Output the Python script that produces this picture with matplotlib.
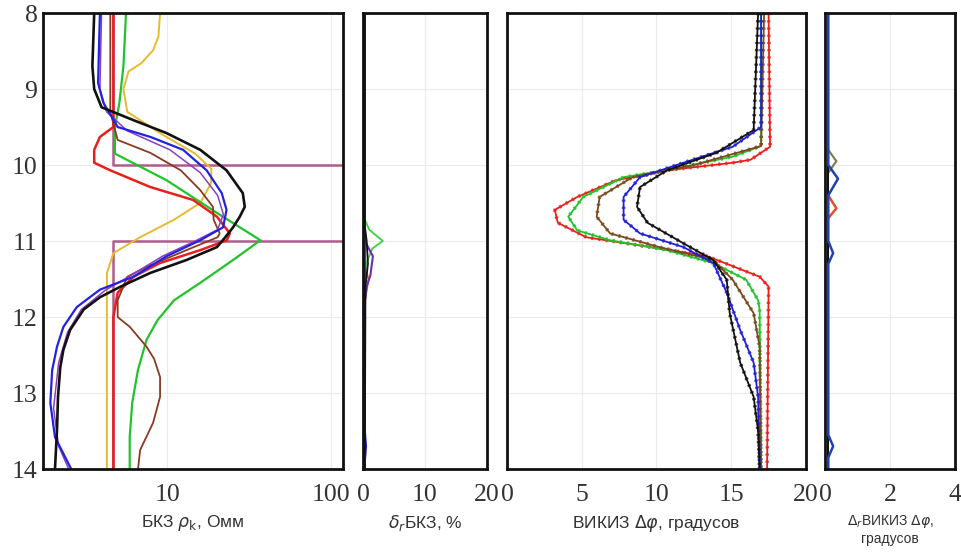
import matplotlib
matplotlib.use("Agg")
import matplotlib.pyplot as plt
from matplotlib.ticker import FixedLocator, NullLocator

# --- БКЗ apparent resistivity, Ohm*m, vs depth, m ---
bkz_black_d = [8.0, 8.7, 9.0, 9.24, 9.41, 9.58, 9.8, 10.07, 10.37, 10.55, 10.68, 10.82, 10.95,
               11.08, 11.25, 11.42, 11.6, 11.74, 11.9, 12.17, 12.43, 12.66, 13.05, 13.49, 14.0]
bkz_black_r = [3.59, 3.5, 3.59, 3.98, 6.23, 9.91, 15.9, 23.0, 28.9, 29.7, 27.7, 25.2, 22.6,
               20.1, 13.1, 7.89, 5.2, 3.89, 3.1, 2.56, 2.33, 2.23, 2.16, 2.13, 2.07]
bkz_blue_d = [8.0, 8.92, 9.18, 9.5, 9.63, 9.8, 10.07, 10.37, 10.59, 10.82, 10.99, 11.2, 11.47,
              11.64, 11.87, 12.13, 12.39, 12.7, 13.13, 13.58, 14.0]
bkz_blue_r = [3.89, 3.79, 4.08, 4.99, 7.89, 12.5, 17.4, 21.5, 23.0, 21.9, 15.9, 9.91, 6.23,
              3.89, 2.81, 2.33, 2.13, 1.99, 1.94, 2.07, 2.6]
bkz_purple_d = [8.0, 9.0, 9.3, 9.55, 9.8, 10.1, 10.4, 10.65, 10.85, 11.0, 11.2, 11.45, 11.65,
                11.9, 12.2, 12.6, 13.2, 13.7, 14.0]
bkz_purple_r = [3.98, 3.89, 4.27, 5.71, 10.4, 15.9, 20.3, 22.0, 20.3, 14.8, 9.36, 6.03, 4.18,
                3.0, 2.47, 2.18, 2.03, 2.18, 2.51]
bkz_brown_d = [8.0, 9.3, 9.67, 9.84, 10.07, 10.33, 10.55, 10.72, 10.9, 10.95, 11.12, 11.34,
               11.47, 11.78, 12.0, 12.13, 12.39, 12.55, 12.79, 13.05, 13.39, 13.75, 14.0]
bkz_brown_r = [4.5, 4.5, 4.99, 7.89, 12.1, 15.9, 19.0, 19.2, 20.9, 20.3, 13.1, 7.48,
               5.71, 4.99, 4.99, 5.92, 7.48, 8.32, 9.05, 9.05, 8.21, 6.84, 6.64]
bkz_red_d = [8.0, 9.5, 9.63, 9.8, 9.97, 10.07, 10.29, 10.46, 10.68, 10.9, 10.99, 11.12,
             11.29, 11.47, 11.68, 12.0, 14.0]
bkz_red_r = [4.7, 4.7, 3.89, 3.59, 3.59, 4.5, 7.89, 14.4, 20.1, 24.1, 23.1, 15.9,
             9.03, 6.23, 4.99, 4.7, 4.7]
bkz_green_d = [8.0, 8.7, 9.2, 9.5, 9.85, 10.2, 10.63, 10.99, 11.25, 11.55, 11.78, 12.04,
               12.3, 12.7, 13.13, 13.58, 14.0]
bkz_green_r = [5.61, 5.41, 5.1, 4.8, 4.8, 9.91, 20.1, 37.0, 25.2, 15.9, 11.0, 8.74,
               7.48, 6.63, 6.12, 5.91, 5.91]
bkz_yellow_d = [8.0, 8.31, 8.49, 8.66, 8.77, 9.0, 9.3, 9.6, 9.85, 10.05, 10.24, 10.5, 10.72,
                10.95, 11.16, 11.42, 12.0, 14.0]
bkz_yellow_r = [9.05, 8.84, 8.21, 6.95, 5.81, 5.41, 5.71, 9.36, 14.8, 18.6, 18.5, 15.9, 11.0,
                6.84, 4.7, 4.29, 4.29, 4.29]

# formation model: host rock and resistive bed 10-11 m
model_d = [8.0, 10.0, 10.0, 11.0, 11.0, 14.0]
model_r = [4.7, 4.7, 200.0, 200.0, 4.7, 4.7]

# --- relative БКЗ error, % ---
dbkz_black_d = [8.0, 10.8, 11.0, 11.3, 11.6, 14.0]
dbkz_black_v = [0.3, 0.3, 0.6, 0.8, 0.4, 0.3]
dbkz_green_d = [8.0, 10.7, 10.85, 11.0, 11.1, 11.3, 11.5, 14.0]
dbkz_green_v = [0.2, 0.2, 1.0, 3.2, 1.5, 0.5, 0.2, 0.2]
dbkz_purple_d = [8.0, 11.0, 11.2, 11.45, 11.6, 11.8, 14.0]
dbkz_purple_v = [0.3, 0.3, 1.6, 1.2, 0.6, 0.3, 0.3]
dbkz_orange_d = [8.0, 11.3, 11.5, 11.7, 11.85, 14.0]
dbkz_orange_v = [0.2, 0.2, 0.9, 0.5, 0.2, 0.2]
dbkz_blue_d = [8.0, 13.5, 13.7, 13.9, 14.0]
dbkz_blue_v = [0.3, 0.3, 0.5, 0.3, 0.3]

# --- ВИКИЗ phase difference, degrees ---
vik_red_d = [8.0, 9.76, 9.93, 9.97, 10.07, 10.2, 10.42, 10.59, 10.76, 10.95, 11.08, 11.2,
             11.47, 11.6, 14.0]
vik_red_v = [17.5, 17.6, 16.3, 15.1, 10.7, 7.3, 4.7, 3.2, 3.4, 5.3, 9.6, 13.4,
             16.9, 17.5, 17.4]
vik_green_d = [8.0, 9.75, 9.89, 10.07, 10.16, 10.42, 10.68, 10.86, 10.99, 11.12, 11.29,
               11.51, 11.78, 11.9, 14.0]
vik_green_v = [17.0, 17.0, 15.1, 10.7, 7.8, 5.1, 4.1, 4.7, 6.9, 10.7, 13.8,
               16.0, 16.8, 16.9, 17.0]
vik_brown_d = [8.0, 9.75, 10.0, 10.16, 10.42, 10.68, 10.9, 11.08, 11.25, 11.51, 11.95,
               12.39, 14.0]
vik_brown_v = [17.2, 17.0, 12.5, 8.4, 6.2, 6.0, 6.9, 10.2, 13.8, 15.1, 16.5, 16.9, 17.0]
vik_blue_d = [8.0, 9.5, 9.76, 9.97, 10.16, 10.42, 10.72, 10.9, 11.08, 11.29, 11.68, 12.17,
              12.6, 13.05, 14.0]
vik_blue_v = [17.0, 17.0, 15.1, 11.8, 8.9, 7.8, 7.8, 8.9, 11.8, 13.8, 14.7, 15.6,
              16.5, 16.8, 16.9]
vik_black_d = [8.0, 9.54, 9.84, 10.07, 10.29, 10.55, 10.76, 11.03, 11.25, 11.51, 11.95,
               12.6, 13.05, 13.5, 14.0]
vik_black_v = [16.8, 16.5, 14.0, 10.7, 8.9, 8.7, 9.4, 11.8, 13.8, 14.7, 14.9,
               15.6, 16.5, 16.8, 16.9]

# --- ВИКИЗ absolute error, degrees ---
dvik_black_d = [8.0, 14.0]
dvik_black_v = [0.1, 0.1]
dvik_olive_d = [9.8, 9.95, 10.1]
dvik_olive_v = [0.1, 0.35, 0.1]
dvik_blue_d = [8.0, 10.0, 10.18, 10.4, 11.0, 11.16, 11.3, 13.55, 13.7, 13.85, 14.0]
dvik_blue_v = [0.1, 0.1, 0.4, 0.1, 0.1, 0.25, 0.1, 0.1, 0.25, 0.1, 0.1]
dvik_orange_d = [10.4, 10.57, 10.7]
dvik_orange_v = [0.1, 0.35, 0.1]

bkz_ticks = [10, 100]
dbkz_ticks = [0, 10, 20]
vik_ticks = [0, 5, 10, 15, 20]
dvik_ticks = [0, 2, 4]
depth_ticks = [8, 9, 10, 11, 12, 13, 14]

TICK_FONT = {"family": "Liberation Serif", "size": 18.5, "color": "#333333"}
LABEL_FONT = {"family": "Liberation Sans", "size": 12.5, "color": "#333333"}
GRID = dict(color="#ebebeb", lw=0.8)

fig = plt.figure(figsize=(9.62, 5.54), dpi=100)
bottom, height = 0.1534, 0.8231
ax_bkz = fig.add_axes([0.0447, bottom, 0.3119, height])
ax_dbkz = fig.add_axes([0.3773, bottom, 0.1289, height])
ax_vik = fig.add_axes([0.5270, bottom, 0.3108, height])
ax_dvik = fig.add_axes([0.8576, bottom, 0.1351, height])


def style_track(ax, xticks, xlabel, label_size=12.5):
    ax.set_ylim(14, 8)
    ax.set_yticks(depth_ticks)
    ax.xaxis.set_major_locator(FixedLocator(xticks))
    ax.xaxis.set_minor_locator(NullLocator())
    ax.set_xticklabels([str(t) for t in xticks], fontdict=TICK_FONT)
    ax.tick_params(length=0, pad=11)
    ax.tick_params(axis="y", pad=4)
    ax.grid(True, **GRID)
    ax.set_axisbelow(True)
    for s in ax.spines.values():
        s.set_linewidth(2.0)
        s.set_color("#111111")
    font = dict(LABEL_FONT, size=label_size)
    ax.set_xlabel(xlabel, fontdict=font, labelpad=5)


# БКЗ track
ax_bkz.set_xscale("log")
ax_bkz.set_xlim(1.75, 118)
ax_bkz.plot(model_r, model_d, color="#b35a8c", lw=1.8)
ax_bkz.plot(bkz_yellow_r, bkz_yellow_d, color="#e6bb2e", lw=1.4)
ax_bkz.plot(bkz_green_r, bkz_green_d, color="#22c32a", lw=1.6)
ax_bkz.plot(bkz_red_r, bkz_red_d, color="#e8201c", lw=1.8)
ax_bkz.plot(bkz_brown_r, bkz_brown_d, color="#8a3a22", lw=1.3)
ax_bkz.plot(bkz_purple_r, bkz_purple_d, color="#8a3fc0", lw=1.1)
ax_bkz.plot(bkz_blue_r, bkz_blue_d, color="#2222e0", lw=1.6)
ax_bkz.plot(bkz_black_r, bkz_black_d, color="#111111", lw=1.9)
style_track(ax_bkz, bkz_ticks, r"БКЗ $\rho_\mathrm{k}$, Омм")
ax_bkz.set_yticklabels([str(t) for t in depth_ticks], fontdict=TICK_FONT)

# relative error of БКЗ
ax_dbkz.set_xlim(0, 20)
ax_dbkz.plot(dbkz_orange_v, dbkz_orange_d, color="#e07a20", lw=1.3)
ax_dbkz.plot(dbkz_green_v, dbkz_green_d, color="#3ad040", lw=1.3)
ax_dbkz.plot(dbkz_purple_v, dbkz_purple_d, color="#6a30b0", lw=1.5)
ax_dbkz.plot(dbkz_blue_v, dbkz_blue_d, color="#2222c0", lw=1.5)
ax_dbkz.plot(dbkz_black_v, dbkz_black_d, color="#111111", lw=1.3)
style_track(ax_dbkz, dbkz_ticks, r"$\delta_r$БКЗ, %")
ax_dbkz.set_yticklabels([])

# ВИКИЗ phase differences: solid and dotted runs of each probe
vik_curves = [
    (vik_red_v, vik_red_d, "#e8201c"),
    (vik_green_v, vik_green_d, "#22c32a"),
    (vik_brown_v, vik_brown_d, "#7a4a1e"),
    (vik_blue_v, vik_blue_d, "#2020d8"),
    (vik_black_v, vik_black_d, "#111111"),
]
ax_vik.set_xlim(0, 20)
for v, d, c in vik_curves:
    ax_vik.plot(v, d, color=c, lw=1.3)
    ax_vik.plot(v, d, color=c, lw=2.6, ls=(0, (0.6, 1.4)), alpha=0.8)
style_track(ax_vik, vik_ticks, r"ВИКИЗ $\Delta\varphi$, градусов")
ax_vik.set_yticklabels([])

# ВИКИЗ error track
ax_dvik.set_xlim(0, 4)
ax_dvik.plot(dvik_olive_v, dvik_olive_d, color="#7a7a50", lw=1.5)
ax_dvik.plot(dvik_orange_v, dvik_orange_d, color="#e0502a", lw=1.8)
ax_dvik.plot(dvik_black_v, dvik_black_d, color="#111111", lw=1.5)
ax_dvik.plot(dvik_blue_v, dvik_blue_d, color="#2040b0", lw=1.8)
style_track(ax_dvik, dvik_ticks, "$\\Delta_r$ВИКИЗ $\\Delta\\varphi$,\nградусов", label_size=10)
ax_dvik.set_yticklabels([])

fig.savefig("out.png", dpi=100)
